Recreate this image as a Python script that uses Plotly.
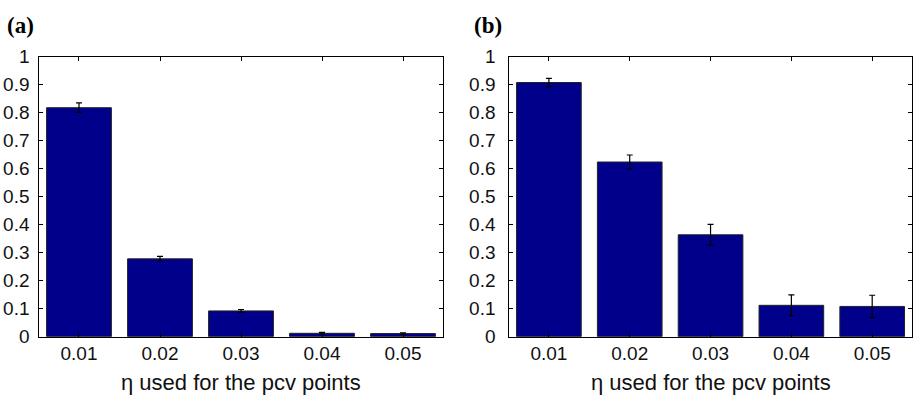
import plotly.graph_objects as go

categories = ["0.01", "0.02", "0.03", "0.04", "0.05"]
values_a = [0.818, 0.278, 0.092, 0.012, 0.011]
errors_a = [0.017, 0.009, 0.005, 0.003, 0.003]
values_b = [0.908, 0.624, 0.364, 0.112, 0.108]
errors_b = [0.015, 0.025, 0.037, 0.037, 0.040]
y_ticks = [0, 0.1, 0.2, 0.3, 0.4, 0.5, 0.6, 0.7, 0.8, 0.9, 1]
y_ticklabels = ["0", "0.1", "0.2", "0.3", "0.4", "0.5", "0.6", "0.7", "0.8", "0.9", "1"]
panel_labels = ["(a)", "(b)"]
x_title = "η used for the pcv points"

W, H = 913, 410
BAR = "#00008B"
FONT = "Liberation Sans, Arial, sans-serif"

fig = go.Figure()
for i, (vals, errs) in enumerate([(values_a, errors_a), (values_b, errors_b)]):
    fig.add_trace(go.Bar(
        x=categories, y=vals,
        xaxis="x" if i == 0 else "x2", yaxis="y" if i == 0 else "y2",
        marker=dict(color=BAR, line=dict(color="#222222", width=1)),
        width=0.8,
        error_y=dict(type="data", array=errs, color="black", thickness=1.2, width=3),
        showlegend=False,
    ))

ydom = [1 - 344.3 / H, 1 - 49.3 / H]
xdoms = [[39.3 / W, 442.7 / W], [509.3 / W, 911.8 / W]]

axis_common = dict(showline=True, linecolor="black", linewidth=1, mirror="ticks",
                   ticks="inside", ticklen=4, tickcolor="black", showgrid=False,
                   zeroline=False, tickfont=dict(family=FONT, size=19, color="#111111"))

layout = dict(width=W, height=H, margin=dict(l=0, r=0, t=0, b=0),
              plot_bgcolor="white", paper_bgcolor="white", bargap=0.2)
for i in range(2):
    sx = "" if i == 0 else "2"
    layout["xaxis" + sx] = dict(domain=xdoms[i], anchor="y" + sx, type="category",
                                range=[-0.49, 4.49], ticklabelstandoff=0, **axis_common)
    layout["yaxis" + sx] = dict(domain=ydom, anchor="x" + sx, range=[0, 1],
                                tickvals=y_ticks, ticktext=y_ticklabels,
                                ticklabelstandoff=5 if i == 0 else 9, **axis_common)
fig.update_layout(**layout)

ann = []
for i in range(2):
    ann.append(dict(text="<b>" + panel_labels[i] + "</b>", xref="paper", yref="paper",
                    x=(5 if i == 0 else 472) / W, y=1 - 1 / H, xanchor="left", yanchor="top",
                    showarrow=False, font=dict(family="Liberation Serif, Times New Roman, serif",
                                               size=23, color="black")))
    cx = (xdoms[i][0] + xdoms[i][1]) / 2
    ann.append(dict(text=x_title, xref="paper", yref="paper", x=cx, y=1 - 393 / H,
                    xanchor="center", yanchor="middle", showarrow=False,
                    font=dict(family=FONT, size=22, color="#111111")))
fig.update_layout(annotations=ann)

fig.write_html("out.html")
